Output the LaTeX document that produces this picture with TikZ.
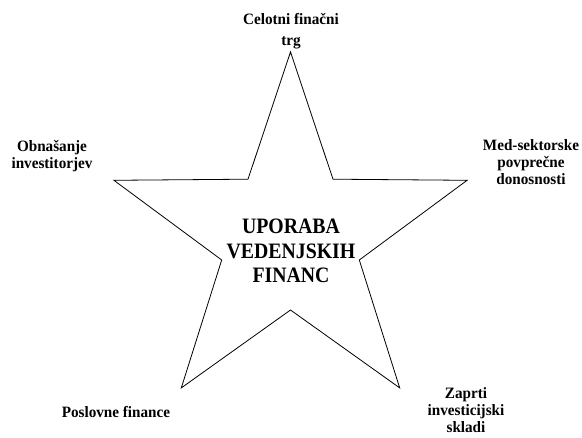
\documentclass[tikz,border=0pt]{standalone}
\usepackage{fontspec}
\setmainfont{Liberation Serif}
\newfontfamily\lblfont[FakeStretch=0.96]{Liberation Serif}
\newfontfamily\ctrfont[FakeStretch=0.9]{Liberation Serif}
\begin{document}
\begin{tikzpicture}[x=1pt,y=-1pt,
  lbl/.style={font=\lblfont\bfseries\fontsize{15.8}{16.8}\selectfont, align=center, inner sep=0pt},
  ctr/.style={font=\ctrfont\bfseries\fontsize{22}{24.5}\selectfont, align=center, inner sep=0pt},
  starline/.style={draw=black, line width=0.8pt, line join=miter}]
\useasboundingbox (0,0) rectangle (582,438);
% outer points
\coordinate (o0) at (290.5,52);
\coordinate (o1) at (467.1,180.3);
\coordinate (o2) at (399.7,387.9);
\coordinate (o3) at (181.3,387.9);
\coordinate (o4) at (113.9,180.3);
% inner points
\coordinate (i0) at (333,179.2);
\coordinate (i1) at (359.3,260);
\coordinate (i2) at (290.5,310);
\coordinate (i3) at (221.7,260);
\coordinate (i4) at (248,179.2);
\draw[starline] (o0) -- (i0) -- (o1) -- (i1) -- (o2) -- (i2) -- (o3) -- (i3) -- (o4) -- (i4) -- cycle;
\node[ctr] (center) at (291,251) {UPORABA\\VEDENJSKIH\\FINANC};
\node[lbl, font=\lblfont\bfseries\fontsize{15.8}{21.5}\selectfont] (top) at (291,31) {Celotni finačni\\trg};
\node[lbl] (left) at (52,156) {Obnašanje\\investitorjev};
\node[lbl] (right) at (531,162) {Med-sektorske\\povprečne\\donosnosti};
\node[lbl] (bl) at (116,412) {Poslovne finance};
\node[lbl] (br) at (466,410) {Zaprti\\investicijski\\skladi};
\end{tikzpicture}
\end{document}
